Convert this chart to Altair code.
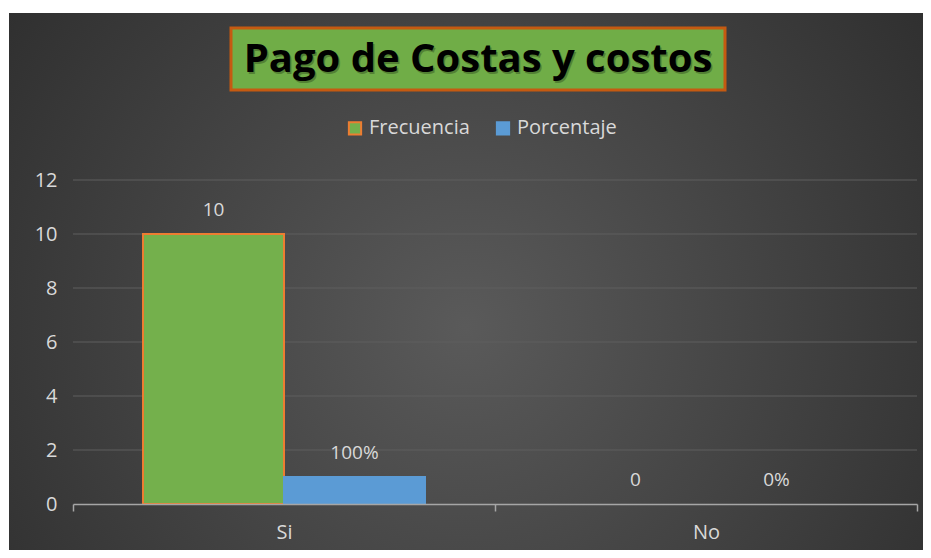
import altair as alt
import pandas as pd

# ---- data ----
categories = ["Si", "No"]
series = ["Frecuencia", "Porcentaje"]
frecuencia = [10, 0]
porcentaje = [1.0, 0.0]
frec_labels = ["10", "0"]
porc_labels = ["100%", "0%"]
y_ticks = [2, 4, 6, 8, 10, 12]
title_text = "Pago de Costas y costos"

rows = []
for i, c in enumerate(categories):
    rows.append({"cat": c, "serie": series[0], "value": frecuencia[i], "label": frec_labels[i]})
    rows.append({"cat": c, "serie": series[1], "value": porcentaje[i], "label": porc_labels[i]})
df = pd.DataFrame(rows)
grid_df = pd.DataFrame({"value": y_ticks})
one = pd.DataFrame({"t": [title_text]})

FONT = "Open Sans"
TXT = "#d9d9d9"
W, H = 844, 324
PAD = {"left": 65, "top": 172, "right": 6, "bottom": 46}

x_axis = alt.Axis(title=None, labelAngle=0, labelFontSize=20, labelColor=TXT,
                  labelFont=FONT, domainColor="#a6a6a6", domainWidth=1.5,
                  tickColor="#a6a6a6", tickWidth=1.5, tickSize=7, tickBand="extent",
                  labelPadding=11, grid=False, zindex=1)
y_axis = alt.Axis(title=None, values=[0] + y_ticks, labelFontSize=20, labelColor=TXT,
                  labelFont=FONT, domain=False, ticks=False, grid=False,
                  labelPadding=16, zindex=1)
x_enc = alt.X("cat:N", sort=categories,
              scale=alt.Scale(paddingInner=0, paddingOuter=0), axis=x_axis)
xo_enc = alt.XOffset("serie:N", sort=series,
                     scale=alt.Scale(paddingInner=0, paddingOuter=0.4965))
y_scale = alt.Scale(domain=[0, 12], nice=False)
y_enc = alt.Y("value:Q", scale=y_scale, axis=y_axis)

legend = alt.Legend(title=None, orient="none", direction="horizontal",
                    legendX=272, legendY=-62, labelFontSize=20,
                    labelFont=FONT, labelColor=TXT, symbolType="square",
                    symbolSize=150, symbolStrokeWidth=2, columnPadding=22,
                    labelOffset=4, padding=0)

bg = alt.Chart(one).mark_rect(
    fill=alt.Gradient(gradient="radial",
                      stops=[alt.GradientStop(color="#5a5a5a", offset=0),
                             alt.GradientStop(color="#262626", offset=1)],
                      x1=0.5, y1=0.55, r1=0, x2=0.5, y2=0.55, r2=0.75)
).encode(x=alt.value(-PAD["left"] + 1), x2=alt.value(W + PAD["right"]),
         y=alt.value(-PAD["top"] + 5), y2=alt.value(H + PAD["bottom"]))

grid = alt.Chart(grid_df).mark_rule(color="#5e5e5e", strokeWidth=1.2).encode(
    y=y_enc)

bars = alt.Chart(df).mark_bar(strokeWidth=2).encode(
    x=x_enc, xOffset=xo_enc, y=y_enc,
    color=alt.Color("serie:N", sort=series,
                    scale=alt.Scale(domain=series, range=["#74b04c", "#5b9bd5"]),
                    legend=legend),
    stroke=alt.Stroke("serie:N", sort=series,
                      scale=alt.Scale(domain=series, range=["#ed7d31", "#5b9bd5"]),
                      legend=legend),
    strokeOpacity=alt.condition("datum.value > 0", alt.value(1), alt.value(0)),
)

labels = alt.Chart(df).mark_text(font=FONT, fontSize=19, color=TXT, baseline="bottom",
                                 dy=-14).encode(
    x=x_enc, xOffset=xo_enc, y=y_enc, text="label:N")

title_box = alt.Chart(one).mark_rect(fill="#70ad47", stroke="#c55a11", strokeWidth=3).encode(
    x=alt.value(158), x2=alt.value(652), y=alt.value(-152), y2=alt.value(-90))
title_shadow = alt.Chart(one).mark_text(font=FONT, fontSize=40, fontWeight="bold",
                                        color="#000000", opacity=0.25, baseline="middle",
                                        align="center").encode(
    x=alt.value(406.5), y=alt.value(-118.5), text="t:N")
title = alt.Chart(one).mark_text(font=FONT, fontSize=40, fontWeight="bold", color="#000000",
                                 baseline="middle", align="center").encode(
    x=alt.value(405), y=alt.value(-120), text="t:N")

chart = alt.layer(bg, grid, bars, labels, title_box, title_shadow, title).properties(
    width=W, height=H, padding=PAD, background="#ffffff",
    autosize=alt.AutoSizeParams(type="none")
).configure_view(stroke=None)

chart.save("out.html", embed_options={"renderer": "svg", "actions": False})
